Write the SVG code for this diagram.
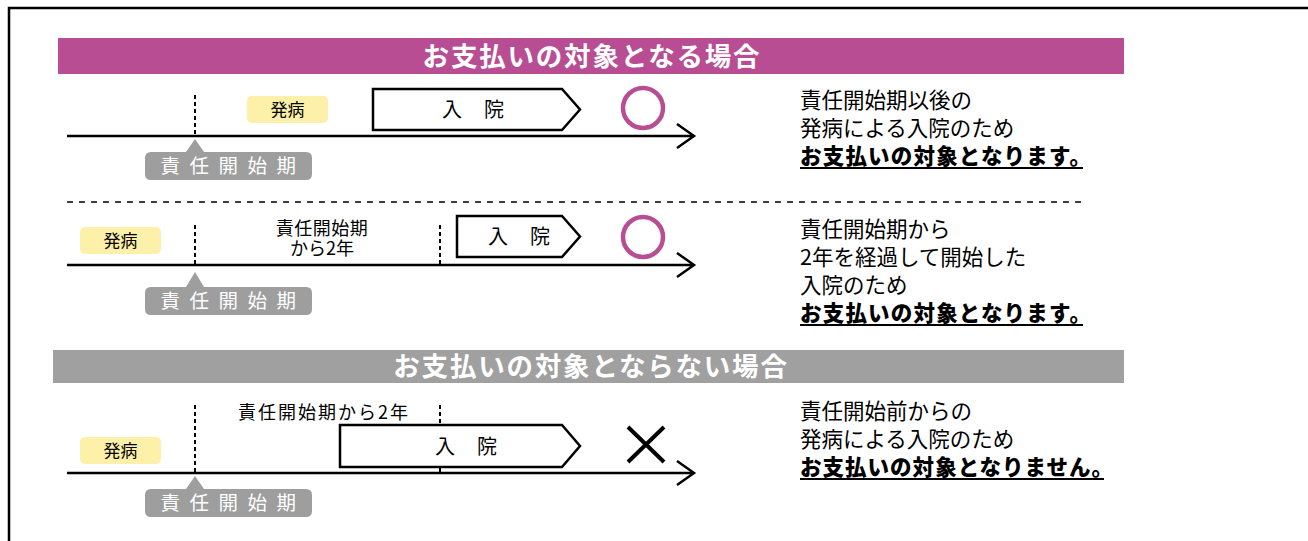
<svg xmlns="http://www.w3.org/2000/svg" width="1308" height="541" viewBox="0 0 1308 541">
<style>
.jp{font-family:"Noto Sans CJK JP","Noto Sans",sans-serif}
.title{font-size:26.5px;font-weight:bold;fill:#fff;letter-spacing:1.8px}
.tagtxt{font-size:19.5px;fill:#fff;letter-spacing:9.5px}
.tag{fill:#9e9e9e}
.onset{fill:#fdf0a8}
.onsettxt{font-size:17px;fill:#000}
.box{fill:#fff;stroke:#000;stroke-width:2.5;stroke-linejoin:miter}
.boxtxt{font-size:20px;fill:#000;letter-spacing:22px}
.axis{stroke:#000;stroke-width:2.5;fill:none}
.vdash{stroke:#000;stroke-width:2;stroke-dasharray:4 3}
.ok{fill:none;stroke:#b84d93;stroke-width:4.5}
.ng{stroke:#000;stroke-width:4;fill:none}
.desc{font-size:21.5px;fill:#000}
.bold{font-weight:900}
.ul{stroke:#000;stroke-width:2}
.lbl{font-size:18px;fill:#000}
</style>
<rect width="1308" height="541" fill="#fff"/>
<path d="M9 541 V8 H1308" fill="none" stroke="#000" stroke-width="2.5"/>

<g id="banner-ok">
<rect x="58" y="38" width="1066" height="36" fill="#b84d93"/>
<text class="jp title" x="592" y="65.5" text-anchor="middle">お支払いの対象となる場合</text>
</g>

<g id="connectors">
<line class="axis" x1="67" y1="136" x2="693" y2="136"/>
<polyline class="axis" points="677,124 694,136 677,148"/>
<line class="vdash" x1="195" y1="95" x2="195" y2="136"/>
<line x1="67" y1="202" x2="1085" y2="202" stroke="#000" stroke-width="1.5" stroke-dasharray="6 6"/>
<line class="axis" x1="67" y1="265" x2="693" y2="265"/>
<polyline class="axis" points="677,253 694,265 677,277"/>
<line class="vdash" x1="195" y1="225" x2="195" y2="265"/>
<line class="vdash" x1="440" y1="225" x2="440" y2="265"/>
<line class="axis" x1="67" y1="473" x2="693" y2="473"/>
<polyline class="axis" points="677,461 694,473 677,485"/>
<line class="vdash" x1="195" y1="405" x2="195" y2="473"/>
<line class="vdash" x1="440" y1="405" x2="440" y2="473"/>
</g>

<g id="row1">
<g id="r1-onset"><rect class="onset" x="247" y="96" width="81" height="27" rx="5"/><text class="jp onsettxt" x="287.5" y="115.5" text-anchor="middle">発病</text></g>
<g id="r1-hosp"><polygon class="box" points="373,89 562,89 580,109.5 562,130 373,130"/><text class="jp boxtxt" x="484" y="116.5" text-anchor="middle">入院</text></g>
<g id="r1-ok"><circle class="ok" cx="643" cy="108" r="20"/></g>
<g id="r1-tag"><path class="tag" d="M151 152 H186 L195 139 L204 152 H306 Q312 152 312 158 V174 Q312 180 306 180 H151 Q145 180 145 174 V158 Q145 152 151 152 Z"/><text class="jp tagtxt" x="233" y="173" text-anchor="middle">責任開始期</text></g>
<g id="r1-desc">
<text class="jp desc" x="800" y="108">責任開始期以後の</text>
<text class="jp desc" x="800" y="136">発病による入院のため</text>
<text class="jp desc bold" x="800" y="164" textLength="291" lengthAdjust="spacing">お支払いの対象となります。</text>
<line class="ul" x1="800" y1="168" x2="1083" y2="168"/>
</g>
</g>

<g id="row2">
<g id="r2-onset"><rect class="onset" x="80" y="227" width="81" height="27" rx="5"/><text class="jp onsettxt" x="120.5" y="246.5" text-anchor="middle">発病</text></g>
<text class="jp lbl" text-anchor="middle"><tspan x="322" y="235" letter-spacing="0.5">責任開始期</tspan><tspan x="322" y="255">から2年</tspan></text>
<g id="r2-hosp"><polygon class="box" points="457,216 562,216 580,236.5 562,257 457,257"/><text class="jp boxtxt" x="530" y="243.5" text-anchor="middle">入院</text></g>
<g id="r2-ok"><circle class="ok" cx="643" cy="237" r="20"/></g>
<g id="r2-tag"><path class="tag" d="M151 287 H186 L195 272 L204 287 H306 Q312 287 312 293 V309 Q312 315 306 315 H151 Q145 315 145 309 V293 Q145 287 151 287 Z"/><text class="jp tagtxt" x="233" y="308" text-anchor="middle">責任開始期</text></g>
<g id="r2-desc">
<text class="jp desc" x="800" y="237">責任開始期から</text>
<text class="jp desc" x="800" y="265">2年を経過して開始した</text>
<text class="jp desc" x="800" y="293">入院のため</text>
<text class="jp desc bold" x="800" y="321" textLength="291" lengthAdjust="spacing">お支払いの対象となります。</text>
<line class="ul" x1="800" y1="325" x2="1083" y2="325"/>
</g>
</g>

<g id="banner-ng">
<rect x="53" y="350" width="1071" height="33" fill="#a0a0a0"/>
<text class="jp title" x="591" y="375.5" text-anchor="middle">お支払いの対象とならない場合</text>
</g>

<g id="row3">
<g id="r3-onset"><rect class="onset" x="80" y="437" width="81" height="27" rx="5"/><text class="jp onsettxt" x="120.5" y="456.5" text-anchor="middle">発病</text></g>
<text class="jp lbl" x="238" y="419" textLength="170" lengthAdjust="spacing">責任開始期から2年</text>
<g id="r3-hosp"><polygon class="box" points="340,425 562,425 580,446 562,467 340,467"/><text class="jp boxtxt" x="477" y="453.5" text-anchor="middle">入院</text></g>
<g id="r3-ng"><path class="ng" d="M628 427 L664 462 M664 427 L628 462"/></g>
<g id="r3-tag"><path class="tag" d="M151 489 H186 L195 476 L204 489 H306 Q312 489 312 495 V511 Q312 517 306 517 H151 Q145 517 145 511 V495 Q145 489 151 489 Z"/><text class="jp tagtxt" x="233" y="510" text-anchor="middle">責任開始期</text></g>
<g id="r3-desc">
<text class="jp desc" x="800" y="419">責任開始前からの</text>
<text class="jp desc" x="800" y="447">発病による入院のため</text>
<text class="jp desc bold" x="800" y="475" textLength="313" lengthAdjust="spacing">お支払いの対象となりません。</text>
<line class="ul" x1="800" y1="479" x2="1104" y2="479"/>
</g>
</g>
</svg>
